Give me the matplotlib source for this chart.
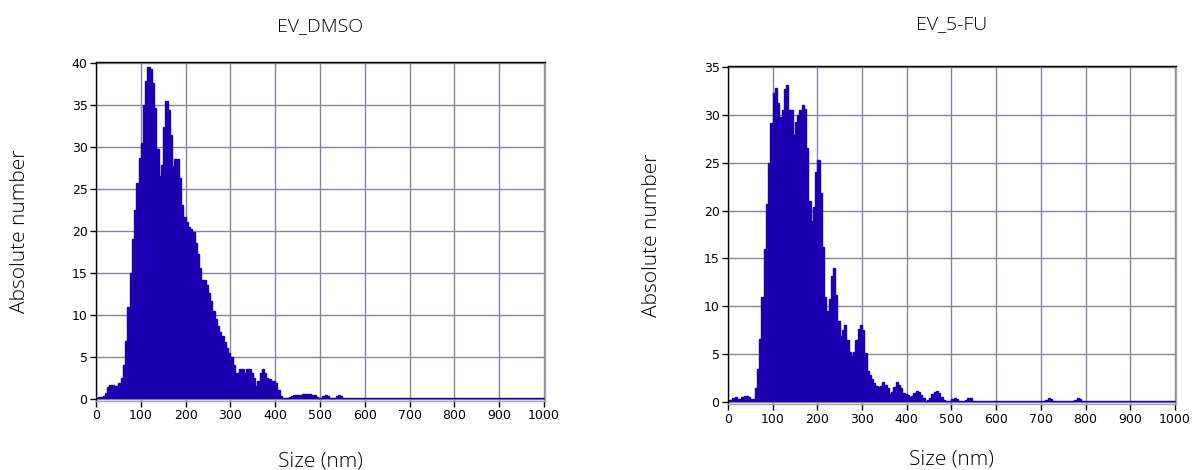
import numpy as np
import matplotlib.pyplot as plt

# NTA size distributions, 5 nm bins from 0 to 1000 nm
bin_width = 5
size_max = 1000

dmso_counts = [
    0.15, 0.2, 0.2, 0.3, 0.7, 1.4, 1.6, 1.6, 1.5, 1.5,
    1.9, 2.5, 4.0, 6.9, 10.9, 15.0, 19.0, 22.5, 25.7, 28.7,
    30.5, 35.0, 37.8, 39.5, 39.3, 37.6, 34.6, 29.8, 26.5, 27.8,
    32.4, 35.5, 34.4, 31.4, 27.7, 28.5, 28.6, 26.3, 23.1, 21.7,
    21.1, 20.5, 20.2, 19.9, 18.5, 17.3, 15.6, 14.2, 14.1, 13.6,
    12.6, 11.6, 10.4, 9.5, 8.7, 8.0, 7.5, 6.8, 6.0, 5.5,
    5.0, 4.0, 3.1, 3.1, 3.5, 3.6, 3.1, 3.6, 3.6, 3.1,
    2.5, 1.5, 2.1, 3.1, 3.5, 3.1, 2.5, 2.3, 2.1, 2.1,
    1.9, 1.1, 0.3, 0.1, 0.1, 0.1, 0.2, 0.35, 0.4, 0.4,
    0.45, 0.5, 0.55, 0.55, 0.55, 0.55, 0.5, 0.4, 0.2, 0.1,
    0.1, 0.3, 0.45, 0.35, 0.1, 0.1, 0.1, 0.3, 0.45, 0.35,
    0.1, 0.08, 0.08, 0.08, 0.08, 0.08, 0.08, 0.08, 0.08, 0.08,
    0.08, 0.08, 0.08, 0.08, 0.08, 0.08, 0.08, 0.08, 0.08, 0.08,
    0.08, 0.08, 0.08, 0.08, 0.08, 0.08, 0.08, 0.08, 0.08, 0.08,
    0.08, 0.08, 0.08, 0.08, 0.08, 0.08, 0.08, 0.08, 0.08, 0.08,
    0.08, 0.08, 0.08, 0.08, 0.08, 0.08, 0.08, 0.08, 0.08, 0.08,
    0.08, 0.08, 0.08, 0.08, 0.08, 0.08, 0.08, 0.08, 0.08, 0.08,
    0.08, 0.08, 0.08, 0.08, 0.08, 0.08, 0.08, 0.08, 0.08, 0.08,
    0.08, 0.08, 0.08, 0.08, 0.08, 0.08, 0.08, 0.08, 0.08, 0.08,
    0.08, 0.08, 0.08, 0.08, 0.08, 0.08, 0.08, 0.08, 0.08, 0.08,
]

fu_counts = [
    0.2, 0.2, 0.4, 0.5, 0.3, 0.3, 0.5, 0.6, 0.6, 0.5,
    0.3, 0.3, 1.4, 3.4, 6.6, 11.0, 16.0, 20.7, 25.0, 29.2,
    32.3, 32.8, 31.3, 29.8, 30.5, 32.7, 33.1, 30.5, 30.5, 27.9,
    29.3, 30.0, 30.5, 31.1, 30.6, 26.5, 21.0, 18.9, 20.4, 24.0,
    25.3, 21.8, 16.2, 11.0, 9.5, 10.8, 13.2, 14.0, 11.2, 8.5,
    6.9, 7.5, 8.0, 6.5, 5.2, 4.8, 5.2, 6.5, 7.6, 8.0,
    7.5, 5.1, 3.2, 2.8, 2.4, 2.0, 1.7, 1.5, 1.7, 2.1,
    1.8, 1.4, 0.8, 1.0, 1.6, 2.1, 1.8, 1.4, 0.9, 0.8,
    0.7, 0.5, 0.6, 0.9, 1.1, 1.0, 0.7, 0.4, 0.1, 0.2,
    0.4, 0.8, 1.0, 1.1, 0.9, 0.5, 0.2, 0.05, 0.05, 0.05,
    0.25, 0.4, 0.25, 0.05, 0.05, 0.05, 0.2, 0.4, 0.35, 0.1,
    0.05, 0.05, 0.05, 0.05, 0.05, 0.05, 0.05, 0.05, 0.05, 0.05,
    0.05, 0.05, 0.05, 0.05, 0.05, 0.05, 0.05, 0.05, 0.05, 0.05,
    0.05, 0.05, 0.05, 0.05, 0.05, 0.05, 0.05, 0.05, 0.05, 0.05,
    0.05, 0.05, 0.2, 0.4, 0.3, 0.1, 0.05, 0.05, 0.05, 0.05,
    0.05, 0.05, 0.05, 0.05, 0.05, 0.2, 0.4, 0.3, 0.1, 0.05,
    0.05, 0.05, 0.05, 0.05, 0.05, 0.05, 0.05, 0.05, 0.05, 0.05,
    0.05, 0.05, 0.05, 0.05, 0.05, 0.05, 0.05, 0.05, 0.05, 0.05,
    0.05, 0.05, 0.05, 0.05, 0.05, 0.05, 0.05, 0.05, 0.05, 0.05,
    0.05, 0.05, 0.05, 0.05, 0.05, 0.05, 0.05, 0.05, 0.05, 0.05,
]

titles = ['EV_DMSO', 'EV_5-FU']
y_tops = [40, 35]
title_pads = [22, 27]
xlabel_pads = [21, 17]
x_ticks = list(range(0, 1001, 100))

bar_color = '#1a00b0'
grid_color = '#84849c'
label_font = ['Open Sans', 'DejaVu Sans']


def draw_panel(ax, counts, title, y_top, title_pad, xlabel_pad):
    edges = np.arange(0, size_max + bin_width, bin_width)
    ax.stairs(counts, edges, fill=True, color=bar_color, linewidth=0)
    ax.stairs(counts, edges, color=bar_color, linewidth=1)

    ax.set_xlim(0, 1002)
    ax.set_ylim(-0.25, y_top + 0.1)
    ax.set_xticks(x_ticks)
    ax.set_yticks(range(0, y_top + 1, 5))
    ax.grid(True, color=grid_color, linewidth=1)
    ax.set_axisbelow(True)

    ax.spines['top'].set_color('black')
    ax.spines['left'].set_color('black')
    ax.spines['right'].set_color('#a8a8a8')
    ax.spines['bottom'].set_color('#a8a8a8')
    for s in ax.spines.values():
        s.set_linewidth(1.0)

    ax.tick_params(direction='out', length=4, width=1, labelsize=9,
                   colors='black', pad=2)

    ax.set_title(title, fontsize=14, family=label_font, weight='light',
                 pad=title_pad)
    ax.set_xlabel('Size (nm)', fontsize=15, family=label_font, weight='light',
                  labelpad=xlabel_pad)
    ax.set_ylabel('Absolute number', fontsize=15, family=label_font,
                  weight='light', labelpad=30)


fig = plt.figure(figsize=(11.92, 4.70), dpi=100)
ax1 = fig.add_axes([0.0805, 0.147, 0.3767, 0.721])
ax2 = fig.add_axes([0.6107, 0.140, 0.3758, 0.719])

draw_panel(ax1, dmso_counts, titles[0], y_tops[0], title_pads[0], xlabel_pads[0])
draw_panel(ax2, fu_counts, titles[1], y_tops[1], title_pads[1], xlabel_pads[1])

fig.savefig('out.png', dpi=100)
